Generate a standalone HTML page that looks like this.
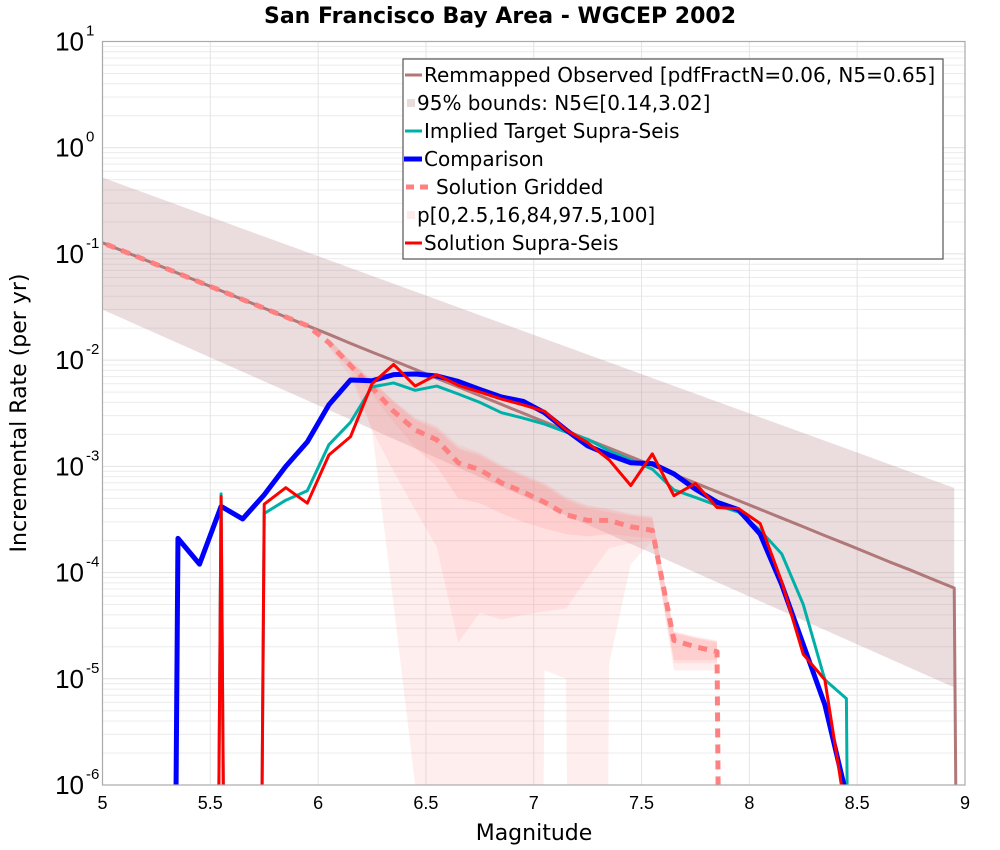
<!DOCTYPE html>
<html><head><meta charset="utf-8">
<style>
html,body{margin:0;padding:0;background:#fff;overflow:hidden;width:1000px;height:850px;}
svg{display:block;font-family:"Liberation Sans","DejaVu Sans",sans-serif;}
</style></head>
<body>
<svg id="chart" width="1000" height="850" xmlns="http://www.w3.org/2000/svg">
<rect x="0" y="0" width="1000" height="850" fill="#fff"/>
<text x="500" y="23" text-anchor="middle" font-size="22" font-weight="bold" font-family="DejaVu Sans, sans-serif">San Francisco Bay Area - WGCEP 2002</text>
<defs><clipPath id="clip"><rect x="102.5" y="41.5" width="862.5" height="743.5"/></clipPath></defs>
<g id="grid"></g>
<g id="marks" clip-path="url(#clip)"></g>
<rect x="102.5" y="41.5" width="862.5" height="743.5" fill="none" stroke="#aaa" stroke-width="1.2"/>
<g id="axes"></g>
<text x="534" y="840" text-anchor="middle" font-size="22" font-family="DejaVu Sans, sans-serif">Magnitude</text>
<text transform="translate(26,413) rotate(-90)" text-anchor="middle" font-size="22" font-family="DejaVu Sans, sans-serif">Incremental Rate (per yr)</text>
<g font-size="20" font-family="DejaVu Sans, sans-serif">
<rect x="403" y="59" width="540" height="200" fill="#fff" stroke="#555" stroke-width="1.2"/>
<g><line x1="405" y1="75" x2="422" y2="75" stroke="#b07878" stroke-width="3"/><text x="424" y="82">Remmapped Observed [pdfFractN=0.06, N5=0.65]</text></g>
<g><rect x="407" y="99" width="8" height="8" fill="#e8dcdd"/><text x="417" y="110">95% bounds: N5∈[0.14,3.02]</text></g>
<g><line x1="405" y1="131" x2="422" y2="131" stroke="#00b0a8" stroke-width="3"/><text x="424" y="138">Implied Target Supra-Seis</text></g>
<g><line x1="404" y1="159" x2="422" y2="159" stroke="#0000ff" stroke-width="5"/><text x="424" y="166">Comparison</text></g>
<g><line x1="406" y1="187" x2="432" y2="187" stroke="#ff8080" stroke-width="5" stroke-dasharray="8,6"/><text x="436" y="194">Solution Gridded</text></g>
<g><rect x="407" y="211" width="8" height="8" fill="#fdeaea"/><text x="417" y="222">p[0,2.5,16,84,97.5,100]</text></g>
<g><line x1="405" y1="243" x2="422" y2="243" stroke="#ff0000" stroke-width="3"/><text x="424" y="250">Solution Supra-Seis</text></g>
</g>
</svg>
<script>
const Z = 1e-30;
const mags = [4.95,5.05,5.15,5.25,5.35,5.45,5.55,5.65,5.75,5.85,5.95,6.05,6.15,6.25,6.35,6.45,6.55,6.65,6.75,6.85,6.95,7.05,7.15,7.25,7.35,7.45,7.55,7.65,7.75,7.85,7.95,8.05,8.15,8.25,8.35,8.45,8.55,8.65,8.75,8.85,8.95,9.05];
const observed = [0.14,0.116,0.0961,0.0795,0.0658,0.0544,0.0450,0.0372,0.0308,0.0255,0.0211,0.0175,0.0144,0.0119,0.00989,0.00818,0.00676,0.00560,0.00463,0.00383,0.00317,0.00262,0.00217,0.00179,0.00149,0.00123,0.00102,8.41e-4,6.96e-4,5.76e-4,4.76e-4,3.94e-4,3.26e-4,2.70e-4,2.23e-4,1.85e-4,1.53e-4,1.26e-4,1.05e-4,8.66e-5,7.16e-5,Z];
const comparison = [Z,Z,Z,Z,2.1e-4,1.2e-4,4.2e-4,3.2e-4,5.4e-4,1.0e-3,1.7e-3,3.8e-3,6.5e-3,6.4e-3,7.3e-3,7.4e-3,7.1e-3,6.3e-3,5.3e-3,4.5e-3,4.1e-3,3.2e-3,2.2e-3,1.56e-3,1.28e-3,1.08e-3,1.06e-3,8.5e-4,6.1e-4,4.6e-4,3.9e-4,2.3e-4,7.7e-5,2.1e-5,5.7e-6,8e-7,Z,Z,Z,Z,Z,Z];
const implied = [Z,Z,Z,Z,Z,Z,5.5e-4,Z,3.6e-4,4.8e-4,5.9e-4,1.6e-3,2.6e-3,5.6e-3,6.1e-3,5.2e-3,5.7e-3,4.8e-3,4.0e-3,3.2e-3,2.85e-3,2.5e-3,2.1e-3,1.8e-3,1.4e-3,1.15e-3,9.4e-4,6.0e-4,5.1e-4,4.3e-4,3.7e-4,2.5e-4,1.5e-4,5.0e-5,9.8e-6,6.5e-6,Z,Z,Z,Z,Z,Z];
const supra = [Z,Z,Z,Z,Z,Z,5.2e-4,Z,4.4e-4,6.3e-4,4.5e-4,1.28e-3,1.9e-3,6.0e-3,9.1e-3,5.7e-3,7.3e-3,5.8e-3,5.0e-3,4.3e-3,3.8e-3,3.3e-3,2.2e-3,1.67e-3,1.15e-3,6.6e-4,1.31e-3,5.3e-4,6.9e-4,4.1e-4,4.0e-4,2.9e-4,8.2e-5,1.7e-5,9.8e-6,5e-7,Z,Z,Z,Z,Z,Z];
const gridded = [0.14,0.116,0.0961,0.0795,0.0658,0.0544,0.0450,0.0372,0.0308,0.0255,0.0211,0.0146,8.9e-3,5.5e-3,3.3e-3,2.2e-3,1.78e-3,1.08e-3,9.3e-4,7.0e-4,5.75e-4,4.6e-4,3.5e-4,3.1e-4,3.1e-4,2.7e-4,2.5e-4,2.3e-5,2.0e-5,1.8e-5,Z];
const boundMags = [4.95,5.0,5.5,6.0,6.5,7.0,7.5,8.0,8.5,8.95];
const boundUpper = [0.57,0.524,0.223,0.0953,0.0406,0.0173,0.00739,0.00315,0.00135,6.25e-4];
const boundLower = [0.033,0.0299,0.0106,3.76e-3,1.33e-3,4.73e-4,1.68e-4,5.96e-5,2.11e-5,8.3e-6];
const pMags = [6.05,6.15,6.25,6.35,6.45,6.55,6.65,6.75,6.85,6.95,7.05,7.15,7.25,7.35,7.45,7.55,7.65,7.75,7.85];
const p0 = [1.3e-2,7e-3,2.2e-3,5e-5,1e-6,Z,Z,Z,Z,Z,1.2e-5,1.0e-5,Z,1.4e-5,1.2e-4,2.0e-4,1.2e-5,1.2e-5,1.2e-5];
const p100 = [1.6e-2,1.0e-2,6.5e-3,4.2e-3,2.9e-3,2.4e-3,1.6e-3,1.35e-3,1.05e-3,8.5e-4,7e-4,5.2e-4,4.3e-4,4.0e-4,3.6e-4,3.4e-4,2.8e-5,2.5e-5,2.3e-5];
const p2_5 = [1.35e-2,8e-3,2.2e-3,9e-4,3.9e-4,1.75e-4,2.2e-5,4.2e-5,3.6e-5,4.0e-5,4.3e-5,4.6e-5,9e-5,1.7e-4,1.9e-4,2.0e-4,1.4e-5,1.4e-5,1.4e-5];
const p97_5 = [1.58e-2,9.8e-3,6.4e-3,4.1e-3,2.8e-3,2.3e-3,1.5e-3,1.3e-3,1.0e-3,8.2e-4,6.8e-4,5.0e-4,4.2e-4,3.9e-4,3.5e-4,3.3e-4,2.75e-5,2.45e-5,2.25e-5];
const p16 = [1.4e-2,8.5e-3,4.8e-3,2.6e-3,1.5e-3,1.0e-3,5.0e-4,4.5e-4,3.6e-4,3.0e-4,2.6e-4,2.3e-4,2.2e-4,2.3e-4,2.2e-4,2.1e-4,1.5e-5,1.5e-5,1.5e-5];
const p84 = [1.55e-2,9.5e-3,6.3e-3,4.0e-3,2.7e-3,2.2e-3,1.45e-3,1.25e-3,9.8e-4,8e-4,6.5e-4,4.8e-4,4.0e-4,3.7e-4,3.4e-4,3.2e-4,2.7e-5,2.4e-5,2.2e-5];
const xTicks = [5,5.5,6,6.5,7,7.5,8,8.5,9];
const xTickLabels = ["5","5.5","6","6.5","7","7.5","8","8.5","9"];
const yExps = [1,0,-1,-2,-3,-4,-5,-6];

const X0=102.5, X1=965, Y0=41.5, Y1=785;
function xs(m){return X0+(m-5)/4*(X1-X0);}
function ys(v){return Y0+(1-Math.log10(v))/7*(Y1-Y0);}
const NS="http://www.w3.org/2000/svg";
function mk(tag,attrs,parent){const e=document.createElementNS(NS,tag);for(const k in attrs)e.setAttribute(k,attrs[k]);parent.appendChild(e);return e;}
const grid=document.getElementById('grid'), marks=document.getElementById('marks'), axes=document.getElementById('axes');

for(let e=1;e>-6;e--){for(let k=2;k<10;k++){const y=ys(k*Math.pow(10,e-1));
 const l=mk('line',{x1:X0,x2:X1,y1:y,y2:y,stroke:'#ececec','stroke-width':1},grid);
 
 }}
yExps.forEach(e=>{const y=ys(Math.pow(10,e));
 const l=mk('line',{x1:X0,x2:X1,y1:y,y2:y,stroke:'#e2e2e2','stroke-width':1},grid);
 
 
 const t=mk('text',{x:84,y:y+9,'text-anchor':'end','font-size':26},axes);
 
 
 t.textContent='10';
 const s=mk('text',{x:86,y:y-6,'font-size':15},axes);
 
 
 s.textContent=String(e);});
xTicks.forEach((m,i)=>{const x=xs(m);
 const l=mk('line',{x1:x,x2:x,y1:Y0,y2:Y1,stroke:'#e4e4e4','stroke-width':1},grid);
 
 
 const t=mk('text',{x:x,y:809,'text-anchor':'middle','font-size':18},axes);
 
 
 t.textContent=xTickLabels[i];});

function band(ms,lo,hi,fill,name){let d='';
 ms.forEach((m,i)=>{d+=(i?'L':'M')+xs(m)+','+Math.min(ys(hi[i]),5000);});
 for(let i=ms.length-1;i>=0;i--){d+='L'+xs(ms[i])+','+Math.min(ys(lo[i]),5000);}
 const p=mk('path',{d:d+'Z',fill:fill,stroke:'none'},marks);
 
 }
function line(ms,vals,color,w,name,dash){let d='';
 ms.forEach((m,i)=>{if(i>=vals.length)return;d+=(i?'L':'M')+xs(m)+','+Math.min(ys(vals[i]),5000);});
 const a={d:d,fill:'none',stroke:color,'stroke-width':w,'stroke-linejoin':'round'};
 if(dash)a['stroke-dasharray']=dash;
 const p=mk('path',a,marks);
 
 }

band(boundMags,boundLower,boundUpper,'rgba(176,120,124,0.25)','observed-95-bounds');
band(pMags,p0,p100,'rgba(255,140,140,0.15)','gridded-p0-p100');
band(pMags,p2_5,p97_5,'rgba(255,140,140,0.15)','gridded-p2.5-p97.5');
band(pMags,p16,p84,'rgba(255,140,140,0.18)','gridded-p16-p84');
line(mags,observed,'#b07878',3,'observed-line');
line(mags,gridded,'#ff8080',5,'gridded-line','9,7');
line(mags,implied,'#00b0a8',3,'implied-target-line');
line(mags,comparison,'#0000ff',5,'comparison-line');
line(mags,supra,'#ff0000',3,'supra-seis-line');
</script>
</body></html>
